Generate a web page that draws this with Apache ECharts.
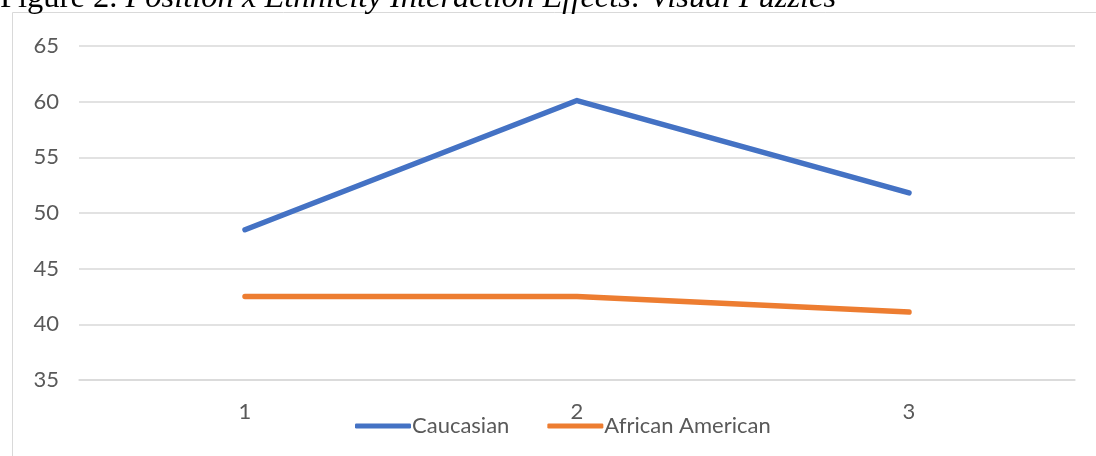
<!DOCTYPE html>
<html>
<head>
<meta charset="utf-8">
<script src="https://cdn.jsdelivr.net/npm/echarts@6/dist/echarts.min.js"></script>
<style>
  html, body { margin: 0; padding: 0; background: #fff; }
  #chart { width: 1096px; height: 456px; }
</style>
</head>
<body>
<div id="chart"></div>
<script>
// Position categories on the x axis
const positions = ['1', '2', '3'];
// Mean scores per ethnicity group
const caucasian = [48.5, 60.1, 51.8];
const africanAmerican = [42.5, 42.5, 41.1];
const seriesNames = ['Caucasian', 'African American'];
const figureLabel = 'Figure 2. ';
const figureTitle = 'Position x Ethnicity Interaction Effects: Visual Puzzles';

const chart = echarts.init(document.getElementById('chart'), null, { renderer: 'canvas' });

const labelFont = 'Lato, "Open Sans", sans-serif';

chart.setOption({
  animation: false,
  backgroundColor: '#ffffff',
  graphic: [
    {
      type: 'rect',
      silent: true,
      shape: { x: 12.5, y: 12.5, width: 1200, height: 600 },
      style: { fill: 'none', stroke: '#d9d9d9', lineWidth: 1 }
    },
    {
      type: 'text',
      x: 0,
      y: -18,
      silent: true,
      style: {
        text: '{n|' + figureLabel + '}{i|' + figureTitle + '}',
        rich: {
          n: { fontFamily: '"Liberation Serif", serif', fontSize: 32.5, fill: '#000' },
          i: { fontFamily: '"Liberation Serif", serif', fontSize: 32.5, fontStyle: 'italic', fill: '#000' }
        }
      }
    }
  ],
  grid: { left: 79, right: 21, top: 46, bottom: 76, containLabel: false },
  legend: {
    data: seriesNames,
    bottom: 19,
    left: 355,
    padding: 0,
    itemWidth: 56,
    itemHeight: 5,
    itemGap: 38,
    icon: 'roundRect',
    textStyle: { color: '#595959', fontSize: 22, fontFamily: labelFont, padding: [0, 0, 0, -4] }
  },
  xAxis: {
    type: 'category',
    data: positions,
    boundaryGap: true,
    axisLine: { show: true, lineStyle: { color: '#d9d9d9', width: 1.5 } },
    axisTick: { show: false },
    axisLabel: { color: '#595959', fontSize: 22, fontFamily: labelFont, margin: 21 },
    splitLine: { show: false }
  },
  yAxis: {
    type: 'value',
    min: 35,
    max: 65,
    interval: 5,
    axisLine: { show: false },
    axisTick: { show: false },
    axisLabel: { color: '#595959', fontSize: 22, fontFamily: labelFont, margin: 20 },
    splitLine: { lineStyle: { color: '#d9d9d9', width: 1.5 } }
  },
  series: [
    {
      name: seriesNames[0],
      type: 'line',
      data: caucasian,
      symbol: 'none',
      color: '#4472C4',
      lineStyle: { width: 5.5, cap: 'round', join: 'round' }
    },
    {
      name: seriesNames[1],
      type: 'line',
      data: africanAmerican,
      symbol: 'none',
      color: '#ED7D31',
      lineStyle: { width: 5.5, cap: 'round', join: 'round' }
    }
  ]
});
</script>
</body>
</html>
